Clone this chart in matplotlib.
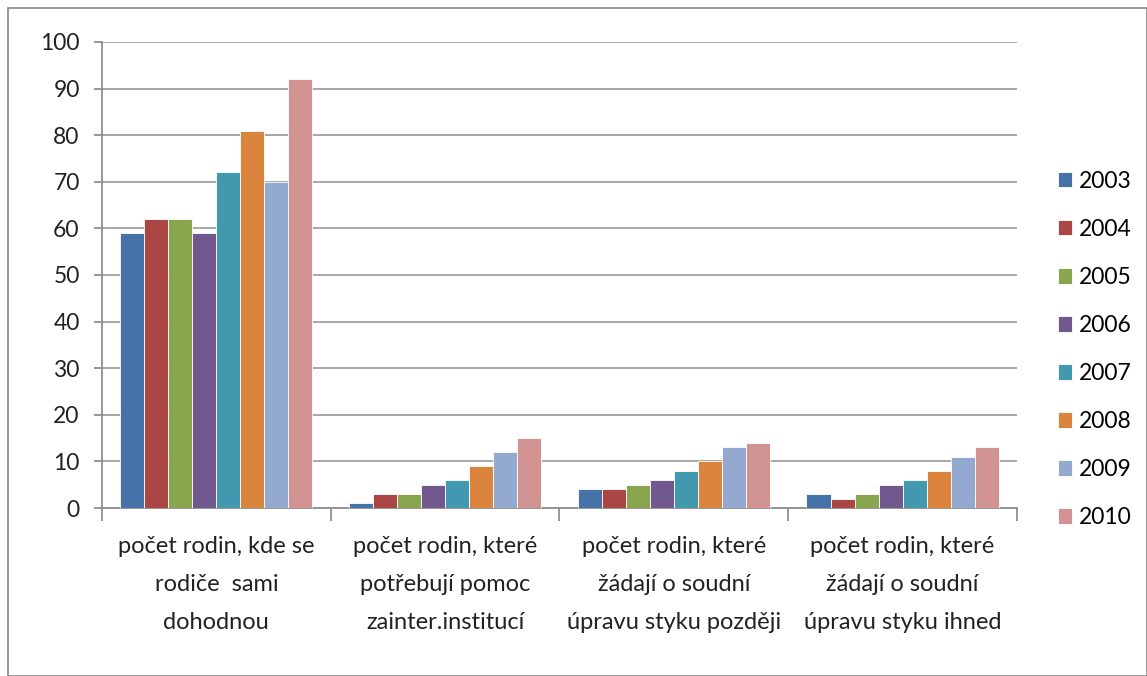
import numpy as np
import matplotlib.pyplot as plt
from matplotlib.patches import Rectangle

plt.rcParams['font.family'] = ['Lato', 'DejaVu Sans']

categories = [
    "počet rodin, kde se\nrodiče  sami\ndohodnou",
    "počet rodin, které\npotřebují pomoc\nzainter.institucí",
    "počet rodin, které\nžádají o soudní\núpravu styku později",
    "počet rodin, které\nžádají o soudní\núpravu styku ihned",
]
years = ["2003", "2004", "2005", "2006", "2007", "2008", "2009", "2010"]
values = {
    "2003": [59, 1, 4, 3],
    "2004": [62, 3, 4, 2],
    "2005": [62, 3, 5, 3],
    "2006": [59, 5, 6, 5],
    "2007": [72, 6, 8, 6],
    "2008": [81, 9, 10, 8],
    "2009": [70, 12, 13, 11],
    "2010": [92, 15, 14, 13],
}
colors = ["#4572A7", "#AA4643", "#89A54E", "#71588F",
          "#4198AF", "#DB843D", "#93A9CF", "#D19392"]

fig = plt.figure(figsize=(11.47, 6.76), dpi=100)
ax = fig.add_axes([0.0889, 0.2485, 0.7977, 0.6894])

x = np.arange(len(categories))
bw = 0.84 / len(years)
for i, y in enumerate(years):
    ax.bar(x - 0.42 + bw * (i + 0.5), values[y], bw, color=colors[i],
           edgecolor="white", linewidth=0.6, label=y, zorder=3)

ax.set_xlim(-0.5, len(categories) - 0.5)
ax.set_ylim(0, 100)
ax.set_yticks(range(0, 101, 10))
ax.yaxis.grid(True, color="#a0a0a0", linewidth=1.3, zorder=0)
ax.set_axisbelow(True)

ax.set_xticks(x)
ax.set_xticklabels(categories, fontsize=17, linespacing=2.0, color="#222222")
ax.set_xticks(np.arange(-0.5, len(categories)), minor=True)
ax.tick_params(axis="x", which="major", length=0, pad=20)
ax.tick_params(axis="x", which="minor", length=9, color="#909090", width=1.3)
ax.tick_params(axis="y", length=6, color="#909090", width=1.3, labelsize=16.5,
               labelcolor="#222222", pad=10)

for s in ["top", "right"]:
    ax.spines[s].set_visible(False)
for s in ["left", "bottom"]:
    ax.spines[s].set_color("#909090")
    ax.spines[s].set_linewidth(1.3)

handles, labels = ax.get_legend_handles_labels()
fig.legend(handles, labels, loc="center left", bbox_to_anchor=(0.914, 0.483),
           frameon=False, fontsize=16.5, handlelength=0.65, handleheight=0.65,
           handletextpad=0.3, labelspacing=1.18, borderaxespad=0)

fig.patches.append(Rectangle((0.007, 0.0), 0.993, 0.988, transform=fig.transFigure,
                             fill=False, edgecolor="#888888", linewidth=1.2))

fig.savefig("out.png", dpi=100)
